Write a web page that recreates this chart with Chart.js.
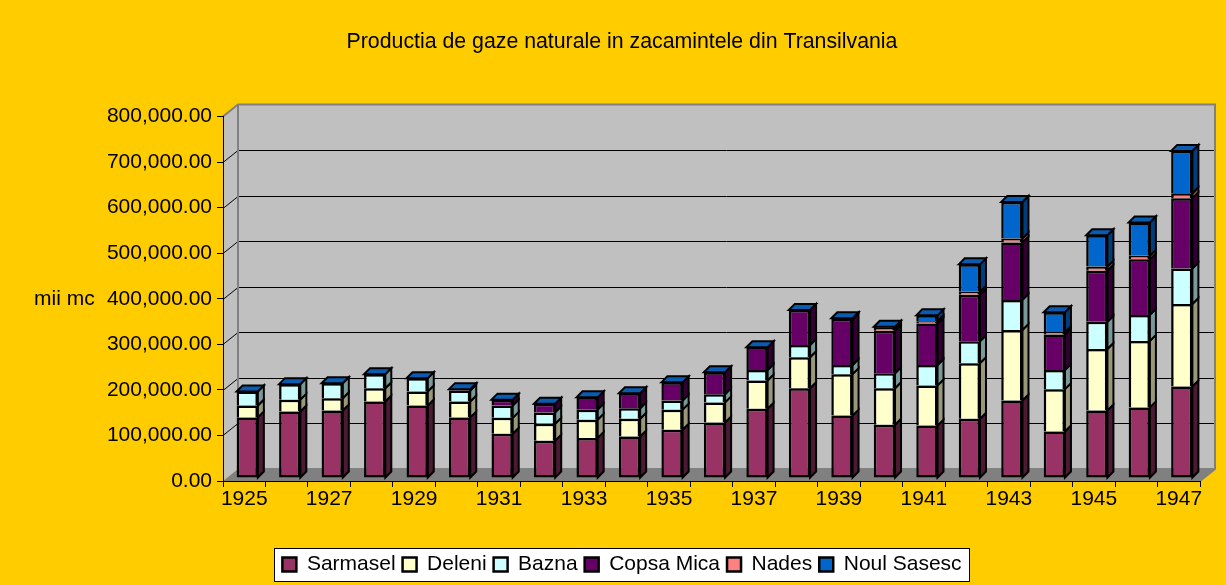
<!DOCTYPE html>
<html>
<head>
<meta charset="utf-8">
<script src="https://cdn.jsdelivr.net/npm/chart.js@4.4.1/dist/chart.umd.min.js"></script>
<style>
  html, body { margin: 0; padding: 0; background: #FFCC00; }
  #wrap { width: 1226px; height: 585px; }
</style>
</head>
<body>
<div id="wrap"><canvas id="gazeChart" width="1226" height="585"></canvas></div>
<script>
// Ani
const years = ['1925', '1926', '1927', '1928', '1929', '1930', '1931', '1932', '1933', '1934', '1935', '1936',
    '1937', '1938', '1939', '1940', '1941', '1942', '1943', '1944', '1945', '1946', '1947'];

// Productia pe zacaminte (mii mc)
const sarmasel = [133000, 146000, 148000, 168000, 159000, 133000, 97000, 82000, 88000, 91000, 106000, 122000,
    152000, 197000, 137000, 117000, 115000, 130000, 170000, 102000, 148000, 155000, 201000];
const deleni = [26000, 26000, 27000, 29000, 31000, 35000, 35000, 37000, 40000, 39000, 44000, 44000,
    62000, 68000, 91000, 80000, 88000, 122000, 155000, 93000, 135000, 146000, 181000];
const bazna = [31000, 34000, 33000, 31000, 29000, 24000, 27000, 25000, 22000, 23000, 20000, 18000,
    23000, 27000, 20000, 33000, 45000, 48000, 66000, 42000, 60000, 57000, 78000];
const copsaMica = [0, 0, 0, 0, 0, 3000, 13000, 19000, 27000, 33000, 40000, 48000,
    50000, 77000, 101000, 93000, 91000, 102000, 126000, 78000, 112000, 122000, 154000];
const nades = [0, 0, 0, 0, 0, 0, 0, 0, 0, 0, 0, 0,
    0, 0, 1500, 6000, 5000, 7000, 9000, 5000, 9000, 8000, 11000];
const noulSasesc = [0, 0, 0, 0, 0, 0, 0, 0, 0, 0, 0, 0,
    0, 0, 0, 3000, 13000, 60000, 80000, 44000, 69000, 73000, 93000];

// Axa valorilor
const yMin = 0;
const yMax = 800000;
const yStep = 100000;

const font = 'Liberation Sans, Arial, sans-serif';

// culori: fata, latura
const colors = {
    'Sarmasel': ['#993366', '#4d1a33'],
    'Deleni': ['#FFFFCC', '#99997a'],
    'Bazna': ['#CCFFFF', '#7a9999'],
    'Copsa Mica': ['#660066', '#330033'],
    'Nades': ['#FF8080', '#994d4d'],
    'Noul Sasesc': ['#0066CC', '#003d7a']
};
const topColor = '#0a5cb0';

const series = [
    ['Sarmasel', sarmasel],
    ['Deleni', deleni],
    ['Bazna', bazna],
    ['Copsa Mica', copsaMica],
    ['Nades', nades],
    ['Noul Sasesc', noulSasesc]
];

const wallDepth = { dx: 15, dy: 12 };
const barDepth = { dx: 6, dy: 6 };
const barShift = { x: 3, y: -3 };
const boxShift = 22;

function poly(ctx, pts, fill, stroke, lw) {
    ctx.beginPath();
    ctx.moveTo(pts[0][0], pts[0][1]);
    for (let i = 1; i < pts.length; i++) ctx.lineTo(pts[i][0], pts[i][1]);
    ctx.closePath();
    if (fill) { ctx.fillStyle = fill; ctx.fill(); }
    if (stroke) { ctx.strokeStyle = stroke; ctx.lineWidth = lw || 1; ctx.stroke(); }
}

// pereti, podea si linii de grila in stil 3D
const plot3d = {
    id: 'plot3d',
    afterLayout(chart) {
        // titlul si legenda putin mai la dreapta, ca in original
        [chart.legend, chart.titleBlock].forEach(b => {
            b.left += boxShift;
            b.right += boxShift;
        });
    },
    beforeDraw(chart) {
        const { ctx, chartArea: a, scales: { y } } = chart;
        const dx = wallDepth.dx, dy = wallDepth.dy;
        ctx.save();
        poly(ctx, [[a.left + dx, a.top - dy], [a.right + dx, a.top - dy], [a.right + dx, a.bottom - dy], [a.left + dx, a.bottom - dy]], '#C0C0C0');
        poly(ctx, [[a.left, a.top], [a.left + dx, a.top - dy], [a.left + dx, a.bottom - dy], [a.left, a.bottom]], '#C0C0C0');
        poly(ctx, [[a.left, a.bottom], [a.left + dx, a.bottom - dy], [a.right + dx, a.bottom - dy], [a.right, a.bottom]], '#808080');

        ctx.strokeStyle = '#000';
        ctx.lineWidth = 1;
        y.ticks.forEach(t => {
            if (t.value <= yMin || t.value >= yMax) return;
            const py = Math.round(y.getPixelForValue(t.value)) + 0.5;
            ctx.beginPath();
            ctx.moveTo(a.left, py);
            ctx.lineTo(a.left + dx, py - dy);
            ctx.lineTo(a.right + dx, py - dy);
            ctx.stroke();
        });

        ctx.strokeStyle = '#808080';
        ctx.lineWidth = 2;
        ctx.beginPath();
        ctx.moveTo(a.left, a.top);
        ctx.lineTo(a.left + dx, a.top - dy);
        ctx.lineTo(a.right + dx, a.top - dy);
        ctx.lineTo(a.right + dx, a.bottom - dy);
        ctx.lineTo(a.right, a.bottom);
        ctx.moveTo(a.left + dx, a.top - dy);
        ctx.lineTo(a.left + dx, a.bottom - dy);
        ctx.lineTo(a.right + dx, a.bottom - dy);
        ctx.stroke();
        ctx.restore();
    },
    beforeDatasetsDraw(chart) {
        chart.ctx.save();
        chart.ctx.translate(barShift.x, barShift.y);
    },
    afterDatasetsDraw(chart) {
        const ctx = chart.ctx;
        const last = chart.data.datasets.length - 1;
        chart.data.datasets.forEach((ds, i) => {
            const side = colors[ds.label][1];
            chart.getDatasetMeta(i).data.forEach(bar => {
                const { x, y, base, width } = bar.getProps(['x', 'y', 'base', 'width'], true);
                const r = x + width / 2;
                if (base - y > 0.5) {
                    poly(ctx, [[r, y], [r + barDepth.dx, y - barDepth.dy], [r + barDepth.dx, base - barDepth.dy], [r, base]], side, '#000', 2);
                }
                if (i === last) {
                    const l = x - width / 2;
                    poly(ctx, [[l, y], [l + barDepth.dx, y - barDepth.dy], [r + barDepth.dx, y - barDepth.dy], [r, y]], topColor, '#000', 2);
                }
            });
        });
        ctx.restore();
    },
    afterDraw(chart) {
        const { ctx, chartArea: a } = chart;
        ctx.save();
        // titlul axei Y, orizontal
        ctx.fillStyle = '#000';
        ctx.font = '21px ' + font;
        ctx.textAlign = 'left';
        ctx.textBaseline = 'middle';
        ctx.fillText('mii mc', 34, (a.top + a.bottom) / 2);

        // chenarul legendei
        const hb = chart.legend.legendHitBoxes;
        if (hb && hb.length) {
            const x0 = Math.min(...hb.map(h => h.left)) - 8;
            const x1 = Math.max(...hb.map(h => h.left + h.width)) + 8;
            const y0 = Math.min(...hb.map(h => h.top)) - 6;
            const y1 = Math.max(...hb.map(h => h.top + h.height)) + 6;
            ctx.globalCompositeOperation = 'destination-over';
            ctx.fillStyle = '#fff';
            ctx.fillRect(x0, y0, x1 - x0, y1 - y0);
            ctx.globalCompositeOperation = 'source-over';
            ctx.strokeStyle = '#000';
            ctx.lineWidth = 1;
            ctx.strokeRect(Math.round(x0) + 0.5, Math.round(y0) + 0.5, Math.round(x1 - x0), Math.round(y1 - y0));
        }
        ctx.restore();
    }
};

const ctx = document.getElementById('gazeChart').getContext('2d');

const gazeChart = new Chart(ctx, {
    type: 'bar',
    data: {
        labels: years,
        datasets: series.map(([name, values], i) => ({
            label: name,
            data: values,
            backgroundColor: colors[name][0],
            borderColor: '#000',
            borderWidth: 2.5,
            borderSkipped: i === 0 ? false : 'start',
            categoryPercentage: 1,
            barPercentage: 0.5
        }))
    },
    options: {
        responsive: false,
        animation: false,
        layout: { padding: { left: 0, right: 26, top: 0, bottom: 0 } },
        scales: {
            x: {
                stacked: true,
                offset: true,
                grid: { offset: true, drawOnChartArea: false, drawTicks: true, tickLength: 6, color: '#000' },
                border: { display: true, color: '#000', width: 1 },
                ticks: {
                    autoSkip: false,
                    maxRotation: 0,
                    padding: 0,
                    color: '#000',
                    font: { family: font, size: 21 },
                    callback: function (val, index) {
                        return index % 2 === 0 ? this.getLabelForValue(val) : '';
                    }
                },
                afterFit: s => { s.height = 66; }
            },
            y: {
                stacked: true,
                min: yMin,
                max: yMax,
                grid: { drawOnChartArea: false, drawTicks: true, tickLength: 6, color: '#000' },
                border: { display: true, color: '#000', width: 1 },
                ticks: {
                    stepSize: yStep,
                    padding: 5,
                    color: '#000',
                    font: { family: font, size: 21 },
                    callback: v => v.toLocaleString('en-US', { minimumFractionDigits: 2, maximumFractionDigits: 2 })
                },
                afterFit: s => { s.width = 223; }
            }
        },
        plugins: {
            title: {
                display: true,
                text: 'Productia de gaze naturale in zacamintele din Transilvania',
                color: '#000',
                font: { family: font, size: 21.3, weight: 'normal' },
                padding: { top: 29, bottom: 62 }
            },
            legend: {
                position: 'bottom',
                labels: {
                    color: '#000',
                    font: { family: font, size: 21 },
                    boxWidth: 14,
                    boxHeight: 14,
                    padding: 7
                }
            },
            tooltip: { enabled: false }
        }
    },
    plugins: [plot3d]
});
</script>
</body>
</html>
